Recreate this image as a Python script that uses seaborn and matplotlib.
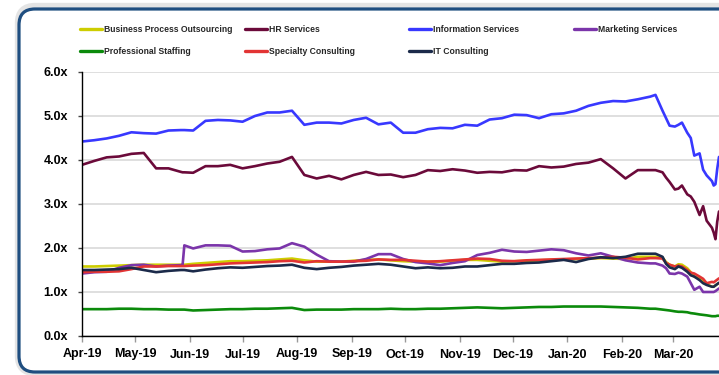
import matplotlib
matplotlib.use("Agg")
import matplotlib.pyplot as plt
from matplotlib.lines import Line2D
from matplotlib.patches import FancyBboxPatch
import pandas as pd
import seaborn as sns

# ---------------- data ----------------
dates = (list(pd.date_range("2019-04-01", "2019-05-27", freq="7D"))
         + list(pd.to_datetime(["2019-05-28", "2019-05-29"]))
         + list(pd.date_range("2019-06-03", "2020-02-17", freq="7D"))
         + list(pd.to_datetime(["2020-02-20", "2020-02-24", "2020-02-26", "2020-02-28",
                                "2020-03-02", "2020-03-04", "2020-03-06", "2020-03-09",
                                "2020-03-11", "2020-03-13", "2020-03-16", "2020-03-18",
                                "2020-03-20", "2020-03-23", "2020-03-24", "2020-03-25",
                                "2020-03-26", "2020-03-27"])))

bpo = [1.58, 1.58, 1.59, 1.60, 1.61, 1.62, 1.62, 1.62, 1.62,
       1.62, 1.62,
       1.64, 1.66, 1.68, 1.70, 1.70, 1.71, 1.72, 1.74, 1.76, 1.72, 1.69, 1.69, 1.69,
       1.71, 1.73, 1.74, 1.72, 1.70, 1.69, 1.69, 1.69, 1.71, 1.73, 1.73, 1.71, 1.69,
       1.70, 1.71, 1.72, 1.73, 1.74, 1.75, 1.76, 1.77, 1.76, 1.75, 1.80, 1.80,
       1.80, 1.78, 1.68, 1.62, 1.58, 1.63, 1.62, 1.54, 1.45, 1.35, 1.30, 1.23, 1.18,
       1.12, 1.12, 1.15, 1.18, 1.20]

hr = [3.89, 3.98, 4.06, 4.08, 4.14, 4.16, 3.81, 3.81, 3.73,
      3.72, 3.72,
      3.71, 3.86, 3.86, 3.89, 3.81, 3.86, 3.92, 3.96, 4.07, 3.66, 3.58, 3.64, 3.56,
      3.66, 3.73, 3.66, 3.67, 3.61, 3.66, 3.77, 3.75, 3.79, 3.76, 3.71, 3.73, 3.72,
      3.77, 3.76, 3.86, 3.83, 3.85, 3.91, 3.94, 4.02, 3.81, 3.58, 3.77, 3.77,
      3.77, 3.72, 3.60, 3.50, 3.33, 3.35, 3.42, 3.22, 3.17, 3.05, 2.75, 2.95, 2.62,
      2.46, 2.35, 2.20, 2.60, 2.83]

info = [4.42, 4.45, 4.49, 4.55, 4.63, 4.61, 4.60, 4.67, 4.68,
        4.68, 4.68,
        4.67, 4.89, 4.91, 4.90, 4.87, 5.00, 5.08, 5.08, 5.12, 4.80, 4.85, 4.85, 4.83,
        4.91, 4.96, 4.81, 4.85, 4.62, 4.62, 4.70, 4.73, 4.72, 4.80, 4.78, 4.92, 4.95,
        5.03, 5.02, 4.95, 5.04, 5.06, 5.12, 5.23, 5.30, 5.34, 5.33, 5.38, 5.44,
        5.48, 5.12, 4.95, 4.78, 4.76, 4.80, 4.85, 4.62, 4.50, 4.10, 4.15, 3.78, 3.65,
        3.52, 3.42, 3.45, 3.80, 4.07]

mkt = [1.42, 1.45, 1.46, 1.55, 1.61, 1.62, 1.58, 1.60, 1.61,
       1.61, 2.06,
       1.99, 2.06, 2.06, 2.05, 1.92, 1.93, 1.97, 1.99, 2.11, 2.03, 1.85, 1.70, 1.69,
       1.69, 1.75, 1.86, 1.86, 1.75, 1.68, 1.65, 1.61, 1.66, 1.70, 1.84, 1.89, 1.96,
       1.92, 1.91, 1.94, 1.97, 1.95, 1.88, 1.83, 1.88, 1.80, 1.72, 1.67, 1.65,
       1.65, 1.60, 1.54, 1.42, 1.41, 1.44, 1.42, 1.35, 1.20, 1.05, 1.12, 1.00, 1.00,
       1.00, 1.00, 1.02, 1.05, 1.08]

staffing = [0.61, 0.61, 0.61, 0.62, 0.62, 0.61, 0.61, 0.60, 0.60,
            0.60, 0.60,
            0.58, 0.59, 0.60, 0.61, 0.61, 0.62, 0.62, 0.63, 0.64, 0.59, 0.60, 0.60, 0.60,
            0.61, 0.61, 0.61, 0.62, 0.61, 0.61, 0.62, 0.62, 0.63, 0.64, 0.65, 0.64, 0.63,
            0.64, 0.65, 0.66, 0.66, 0.67, 0.67, 0.67, 0.67, 0.66, 0.65, 0.64, 0.62,
            0.62, 0.60, 0.59, 0.58, 0.56, 0.55, 0.55, 0.54, 0.52, 0.51, 0.49, 0.48, 0.47,
            0.45, 0.45, 0.45, 0.46, 0.46]

specialty = [1.45, 1.46, 1.46, 1.47, 1.52, 1.58, 1.58, 1.59, 1.59,
             1.59, 1.59,
             1.60, 1.61, 1.63, 1.65, 1.66, 1.67, 1.68, 1.70, 1.71, 1.67, 1.70, 1.69, 1.69,
             1.70, 1.71, 1.74, 1.73, 1.73, 1.71, 1.69, 1.70, 1.72, 1.74, 1.76, 1.75, 1.71,
             1.70, 1.72, 1.73, 1.74, 1.75, 1.76, 1.77, 1.78, 1.80, 1.78, 1.74, 1.77,
             1.77, 1.76, 1.66, 1.62, 1.58, 1.60, 1.58, 1.50, 1.44, 1.42, 1.35, 1.30, 1.20,
             1.23, 1.22, 1.25, 1.28, 1.31]

it = [1.50, 1.50, 1.51, 1.52, 1.55, 1.50, 1.45, 1.48, 1.50,
      1.50, 1.50,
      1.47, 1.51, 1.54, 1.56, 1.55, 1.57, 1.59, 1.60, 1.62, 1.55, 1.52, 1.55, 1.57,
      1.60, 1.62, 1.64, 1.62, 1.58, 1.54, 1.56, 1.54, 1.55, 1.58, 1.58, 1.61, 1.64,
      1.64, 1.66, 1.67, 1.70, 1.73, 1.68, 1.75, 1.79, 1.77, 1.80, 1.87, 1.87,
      1.87, 1.80, 1.64, 1.56, 1.52, 1.58, 1.55, 1.46, 1.38, 1.35, 1.27, 1.20, 1.16,
      1.12, 1.12, 1.15, 1.18, 1.21]

series_names = ["Business Process Outsourcing", "HR Services", "Information Services",
                "Marketing Services", "Professional Staffing", "Specialty Consulting",
                "IT Consulting"]
series_values = [bpo, hr, info, mkt, staffing, specialty, it]
colors = ["#CDCD00", "#6B0A3A", "#3838FF", "#7B35AA", "#0B8A0B", "#E23434", "#1B2A4A"]

y_ticks = [0, 1, 2, 3, 4, 5, 6]
month_ticks = list(pd.date_range("2019-04-01", "2020-03-01", freq="MS"))

# ---------------- build long frame ----------------
frames = []
for name, vals in zip(series_names, series_values):
    frames.append(pd.DataFrame({"date": dates, "value": vals, "series": name}))
df = pd.concat(frames, ignore_index=True)

sns.set_theme(style="white")
plt.rcParams["font.family"] = ["Liberation Sans", "DejaVu Sans"]
plt.rcParams["font.weight"] = "bold"

W, H = 719, 375
fig = plt.figure(figsize=(W / 100, H / 100), dpi=100)
fig.patch.set_facecolor("white")

# rounded frame (behind the axes)
shadow = FancyBboxPatch((0.19, 0.03), 7.6, 3.65,
                        boxstyle="round,pad=0,rounding_size=0.16",
                        transform=fig.dpi_scale_trans, fill=False,
                        ec="#E4E4E4", lw=6, zorder=-3)
fig.add_artist(shadow)
frame = FancyBboxPatch((0.19, 0.03), 7.6, 3.63,
                       boxstyle="round,pad=0,rounding_size=0.16",
                       transform=fig.dpi_scale_trans, fill=True, fc="white",
                       ec="#1F4E80", lw=2.3, zorder=-2)
fig.add_artist(frame)

ax = fig.add_axes([82 / W, 1 - 336 / H, (W - 82) / W, (336 - 72) / H])
ax.set_zorder(1)
ax.set_facecolor("none")

palette = dict(zip(series_names, colors))
sns.lineplot(data=df, x="date", y="value", hue="series", hue_order=series_names,
             palette=palette, linewidth=1.9, legend=False, ax=ax, estimator=None,
             sort=False)

ax.set_xlim(pd.Timestamp("2019-04-01"), pd.Timestamp("2020-03-27"))
ax.set_ylim(0, 6)
ax.set_yticks(y_ticks)
ax.set_yticklabels([f"{v:.1f}x" for v in y_ticks], fontsize=9, fontweight="bold")
ax.set_xticks(month_ticks)
ax.set_xticklabels([d.strftime("%b-%y") for d in month_ticks], fontsize=9,
                   fontweight="bold")
ax.set_xlabel("")
ax.set_ylabel("")

ax.yaxis.grid(True, color="#D9D9D9", lw=1.2)
ax.xaxis.grid(False)
ax.set_axisbelow(True)
for s in ["top", "right"]:
    ax.spines[s].set_visible(False)
for s in ["left", "bottom"]:
    ax.spines[s].set_color("black")
    ax.spines[s].set_linewidth(1.0)
ax.tick_params(axis="y", which="major", left=True, length=3, width=1,
               color="#444444", pad=7, labelcolor="black")
ax.tick_params(axis="x", which="major", bottom=True, length=4, width=1,
               color="#999999", pad=5, labelcolor="black")

# legend (4 fixed-width columns, 2 rows)
col_x = [80, 245, 409, 574]
row_y = [30, 52]
for i, (name, c) in enumerate(zip(series_names, colors)):
    row, col = divmod(i, 4)
    h = Line2D([], [], color=c, lw=2.4)
    fig.legend([h], [name], loc="center left",
               bbox_to_anchor=(col_x[col] / W, 1 - row_y[row] / H),
               frameon=False, borderpad=0, borderaxespad=0,
               handlelength=2.5, handletextpad=0.25,
               prop={"family": ["Liberation Sans", "DejaVu Sans"],
                     "weight": "bold", "size": 6.2})

fig.savefig("out.png", dpi=100)
